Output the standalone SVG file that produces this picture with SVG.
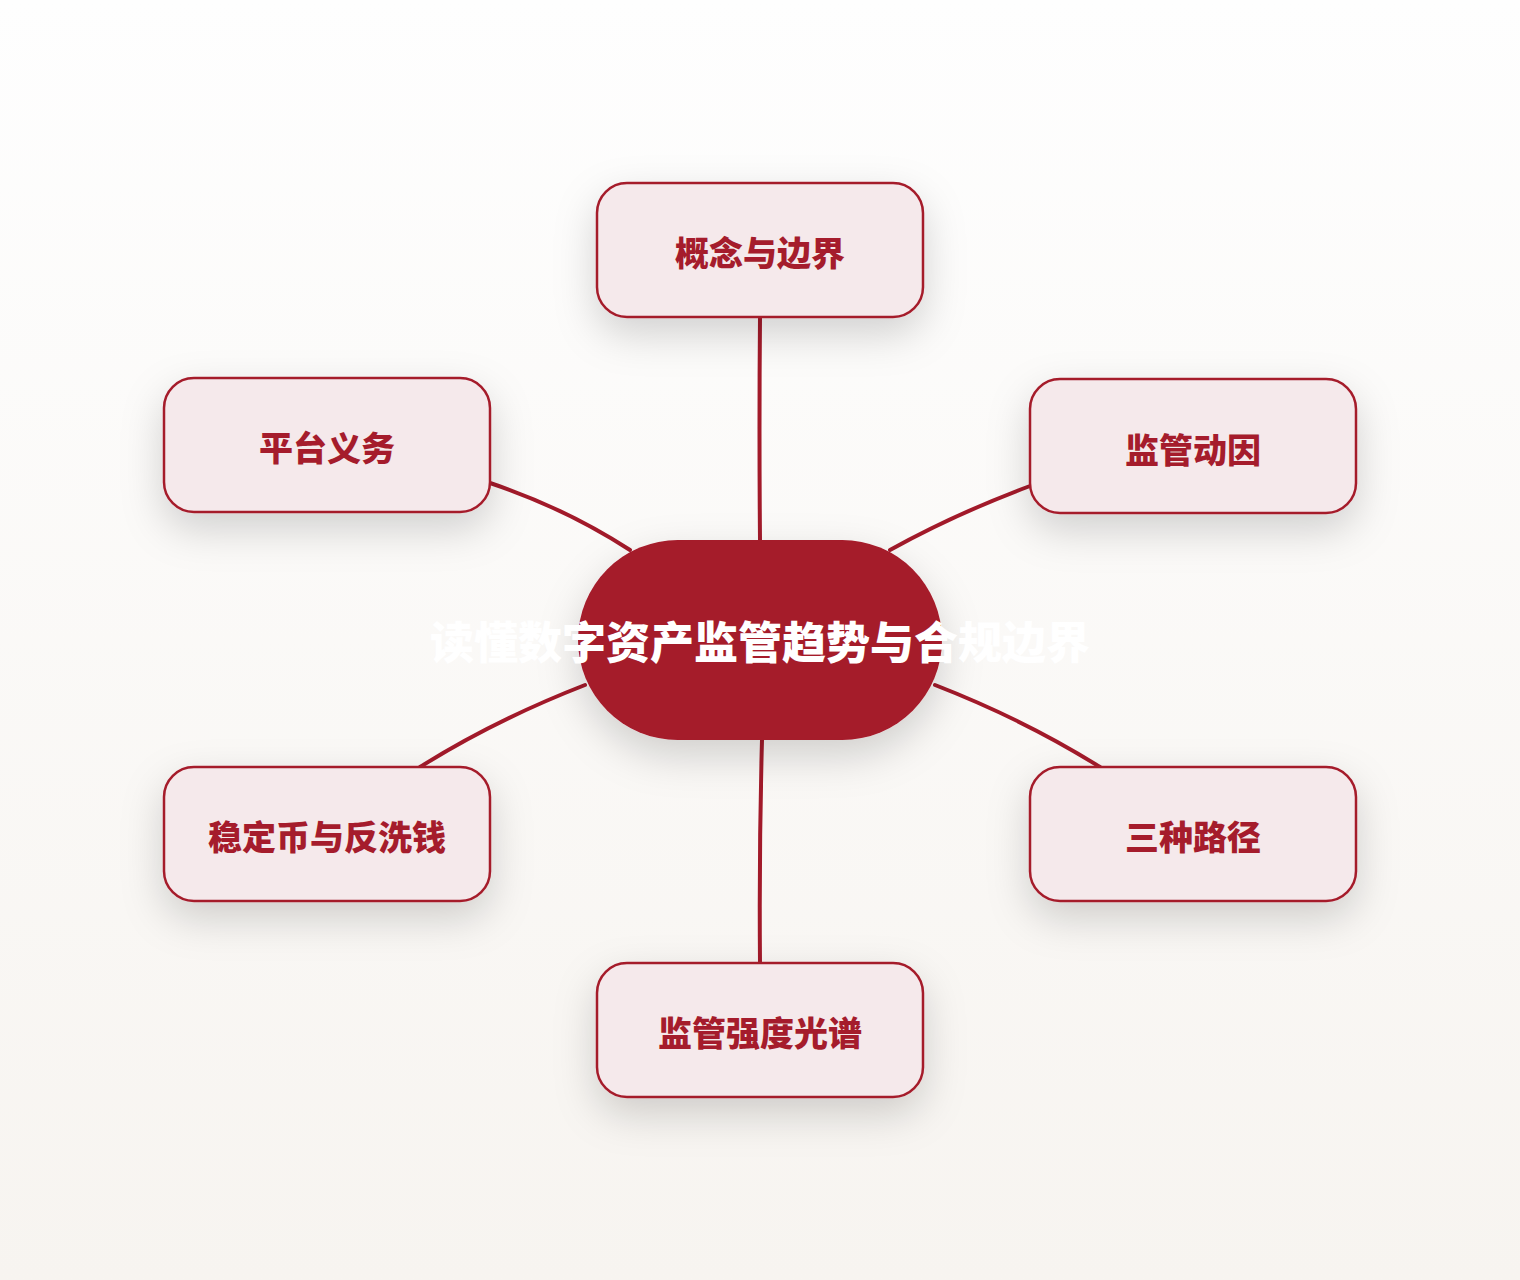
<svg xmlns="http://www.w3.org/2000/svg" width="1520" height="1280" viewBox="0 0 1520 1280">
  <defs>
    <linearGradient id="bg" x1="0" y1="0" x2="0" y2="1">
      <stop offset="0" stop-color="#fefefe"/>
      <stop offset="1" stop-color="#f7f4f0"/>
    </linearGradient>
    <filter id="shadow" x="-40%" y="-50%" width="180%" height="220%">
      <feDropShadow dx="0" dy="16" stdDeviation="20" flood-color="#000" flood-opacity="0.17"/>
    </filter>
    <style>
      .box { fill: #f5e9eb; stroke: #a51c2c; stroke-width: 2.5; }
      .lbl { font-family: "Noto Sans CJK SC", "Noto Sans", sans-serif; font-weight: 900; font-size: 34px; fill: #a51c2c; text-anchor: middle; dominant-baseline: central; }
      .edge { fill: none; stroke: #a21a2a; stroke-width: 4; stroke-linecap: round; }
      .root { fill: #a51a2a; }
      .rootlbl { font-family: "Noto Sans CJK SC", "Noto Sans", sans-serif; font-weight: 900; font-size: 44px; fill: #ffffff; text-anchor: middle; dominant-baseline: central; }
    </style>
  </defs>
  <rect x="0" y="0" width="1520" height="1280" fill="url(#bg)"/>

  <g id="connectors">
    <path class="edge" d="M760 317 Q759 430 760 540"/>
    <path class="edge" d="M490 483 Q565 508 630 550"/>
    <path class="edge" d="M1030 486 Q955 514 890 550"/>
    <path class="edge" d="M585 685 Q495 720 420 767"/>
    <path class="edge" d="M935 685 Q1025 720 1100 767"/>
    <path class="edge" d="M762 740 Q759 850 760 963"/>
  </g>

  <g id="root">
    <rect class="root" x="578" y="540" width="364" height="200" rx="100" ry="100" filter="url(#shadow)"/>
    <text class="rootlbl" x="760" y="640">读懂数字资产监管趋势与合规边界</text>
  </g>

  <g id="node-concept">
    <rect class="box" x="597" y="183" width="326" height="134" rx="30" filter="url(#shadow)"/>
    <text class="lbl" x="760" y="251">概念与边界</text>
  </g>
  <g id="node-platform">
    <rect class="box" x="164" y="378" width="326" height="134" rx="30" filter="url(#shadow)"/>
    <text class="lbl" x="327" y="446">平台义务</text>
  </g>
  <g id="node-drivers">
    <rect class="box" x="1030" y="379" width="326" height="134" rx="30" filter="url(#shadow)"/>
    <text class="lbl" x="1193" y="448">监管动因</text>
  </g>
  <g id="node-stablecoin">
    <rect class="box" x="164" y="767" width="326" height="134" rx="30" filter="url(#shadow)"/>
    <text class="lbl" x="327" y="835">稳定币与反洗钱</text>
  </g>
  <g id="node-paths">
    <rect class="box" x="1030" y="767" width="326" height="134" rx="30" filter="url(#shadow)"/>
    <text class="lbl" x="1193" y="835">三种路径</text>
  </g>
  <g id="node-spectrum">
    <rect class="box" x="597" y="963" width="326" height="134" rx="30" filter="url(#shadow)"/>
    <text class="lbl" x="760" y="1031">监管强度光谱</text>
  </g>
</svg>
